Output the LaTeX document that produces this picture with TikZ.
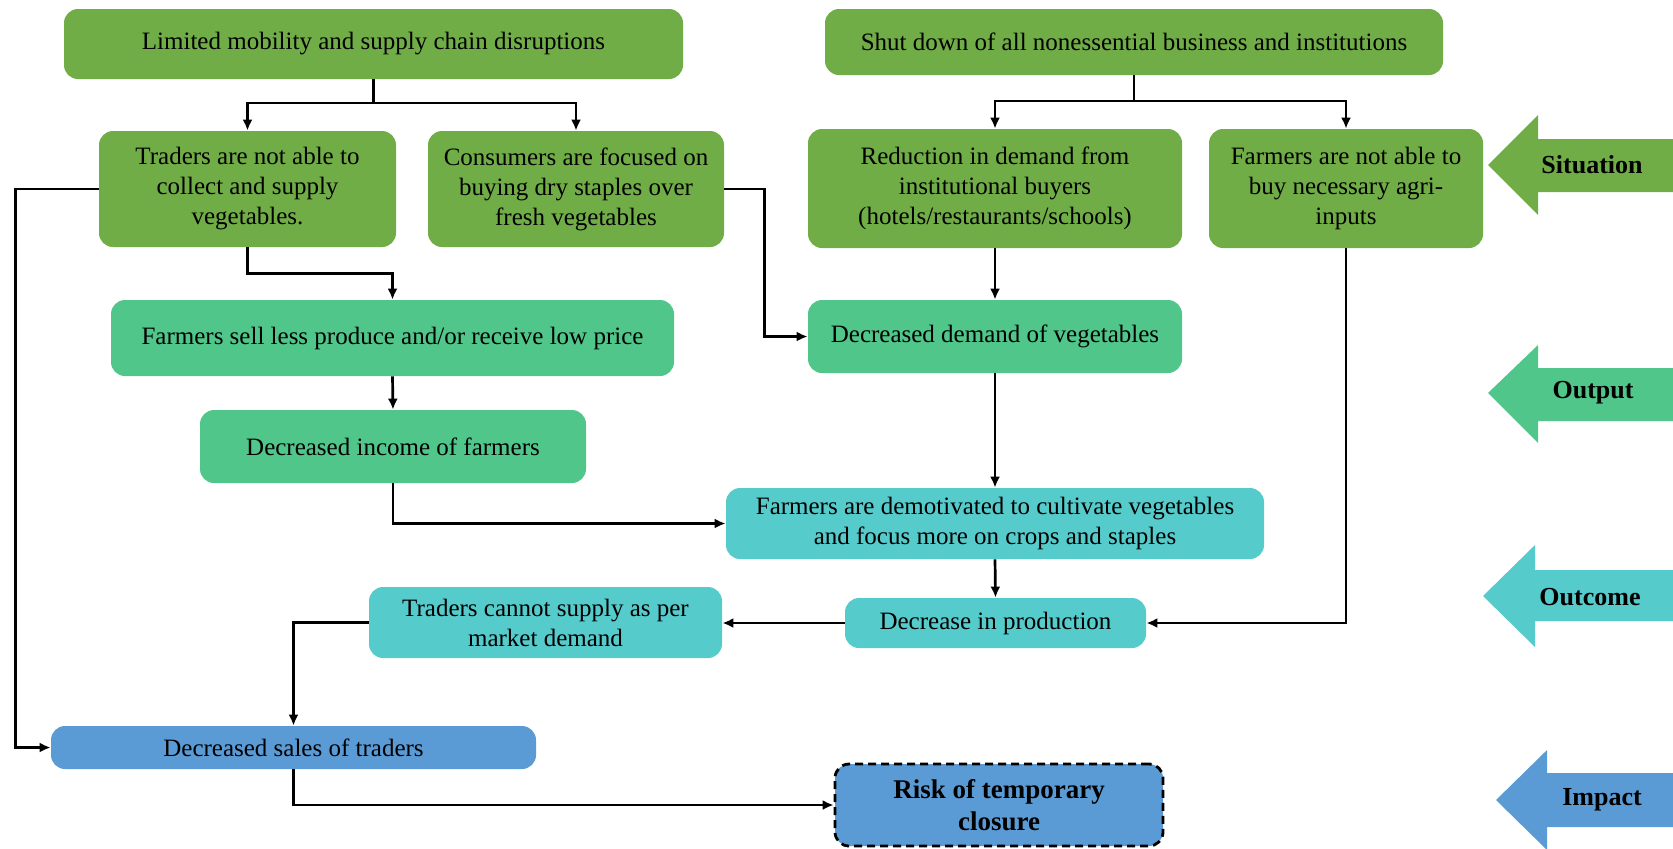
\documentclass[tikz,border=0pt]{standalone}
\usepackage{fontspec}
\setmainfont{Liberation Serif}
\usetikzlibrary{arrows.meta}
\definecolor{sitgreen}{HTML}{70AD47}
\definecolor{outgreen}{HTML}{50C68A}
\definecolor{outteal}{HTML}{56CBCB}
\definecolor{impblue}{HTML}{5B9BD5}
\tikzset{
  box/.style={draw=none, rounded corners=7pt, align=center, inner sep=0pt,
    font=\fontsize{12.5}{15}\selectfont, text=black},
  sit/.style={box, fill=sitgreen},
  outp/.style={box, fill=outgreen},
  outc/.style={box, fill=outteal},
  imp/.style={box, fill=impblue},
  link/.style={line width=1.35pt, line join=miter},
  arr/.style={link, -{Latex[length=5.5pt,width=5pt]}},
  bandlabel/.style={font=\bfseries\fontsize{13}{15}\selectfont, text=black}
}
\begin{document}
\begin{tikzpicture}[x=0.5pt,y=-0.5pt]
\useasboundingbox (0,0) rectangle (1673,848);

% ---- situation ----
\node[sit, minimum width=309.5pt, minimum height=35pt] (A) at (373.5,44) {Limited mobility and supply chain disruptions};
\node[sit, minimum width=309pt, minimum height=33pt] (B) at (1134,42) {Shut down of all nonessential business and institutions};
\node[sit, minimum width=148.5pt, minimum height=58pt] (trad) at (247.5,189) {Traders are not able to\\collect and supply\\vegetables.};
\node[sit, minimum width=148pt, minimum height=58pt] (cons) at (576,189) {Consumers are focused on\\buying dry staples over\\fresh vegetables};
\node[sit, minimum width=187pt, minimum height=59.5pt] (red) at (995,188.5) {Reduction in demand from\\institutional buyers\\(hotels/restaurants/schools)};
\node[sit, minimum width=137pt, minimum height=59.5pt] (fnot) at (1346,188.5) {Farmers are not able to\\buy necessary agri-\\inputs};

% ---- output ----
\node[outp, minimum width=281.5pt, minimum height=38pt] (fsell) at (392.5,338) {Farmers sell less produce and/or receive low price};
\node[outp, minimum width=187pt, minimum height=36.5pt] (ddem) at (995,336.5) {Decreased demand of vegetables};
\node[outp, minimum width=193pt, minimum height=36.5pt] (dinc) at (393,446.5) {Decreased income of farmers};

% ---- outcome ----
\node[outc, minimum width=269pt, minimum height=35.5pt] (demo) at (995,523.5) {Farmers are demotivated to cultivate vegetables\\and focus more on crops and staples};
\node[outc, minimum width=176.5pt, minimum height=35.5pt] (tcan) at (545.5,622.5) {Traders cannot supply as per\\market demand};
\node[outc, minimum width=150.5pt, minimum height=25pt] (dprod) at (995.5,623) {Decrease in production};

% ---- impact ----
\node[imp, minimum width=242.5pt, minimum height=21.5pt] (dsale) at (293.5,747.5) {Decreased sales of traders};
\node[imp, minimum width=164pt, minimum height=41pt, draw=black, line width=1.4pt,
      dash pattern=on 4pt off 2.5pt, font=\bfseries\fontsize{13.5}{16}\selectfont] (risk) at (999,805) {Risk of temporary\\closure};

% ---- connectors ----
\coordinate (yA) at (0,103);
\coordinate (yB) at (0,101);
\draw[link] (A.south) -- (A.south |- yA);
\draw[arr] (A.south |- yA) -| (trad.north);
\draw[arr] (A.south |- yA) -| (cons.north);
\draw[link] (B.south) -- (B.south |- yB);
\draw[arr] (B.south |- yB) -| (red.north);
\draw[arr] (B.south |- yB) -| (fnot.north);

\draw[arr] (trad.west) -- ++(-83,0) |- (dsale.west);
\draw[arr] (trad.south) -- ++(0,26) -| (fsell.north);
\draw[arr] (cons.east) -- ++(40,0) |- (ddem.west);
\draw[arr] (red.south) -- (ddem.north);
\draw[arr] (fsell.south) -- (dinc.north);
\draw[arr] (dinc.south) |- (demo.west);
\draw[arr] (ddem.south) -- (demo.north);
\draw[arr] (demo.south) -- (dprod.north);
\draw[arr] (fnot.south) |- (dprod.east);
\draw[arr] (dprod.west) -- (dprod.west -| tcan.east);
\draw[arr] (tcan.west) -| (dsale.north);
\draw[arr] (dsale.south) |- (risk.west);

% ---- stage arrows on the right ----
\fill[sitgreen] (1488,165) -- (1538,115) -- (1538,139) -- (1673,139) -- (1673,192) -- (1538,192) -- (1538,215) -- cycle;
\fill[outgreen] (1488,393) -- (1538,345) -- (1538,368) -- (1673,368) -- (1673,421) -- (1538,421) -- (1538,443) -- cycle;
\fill[outteal] (1483,596) -- (1535,545) -- (1535,570) -- (1673,570) -- (1673,621) -- (1535,621) -- (1535,647) -- cycle;
\fill[impblue] (1496,800) -- (1547,750) -- (1547,773) -- (1673,773) -- (1673,827) -- (1547,827) -- (1547,850) -- cycle;
\node[bandlabel] (lsit) at (1592,165) {Situation};
\node[bandlabel] (lout) at (1593,393) {Output};
\node[bandlabel] (loc) at (1590,597) {Outcome};
\node[bandlabel] (limp) at (1602,800) {Impact};
\end{tikzpicture}
\end{document}
